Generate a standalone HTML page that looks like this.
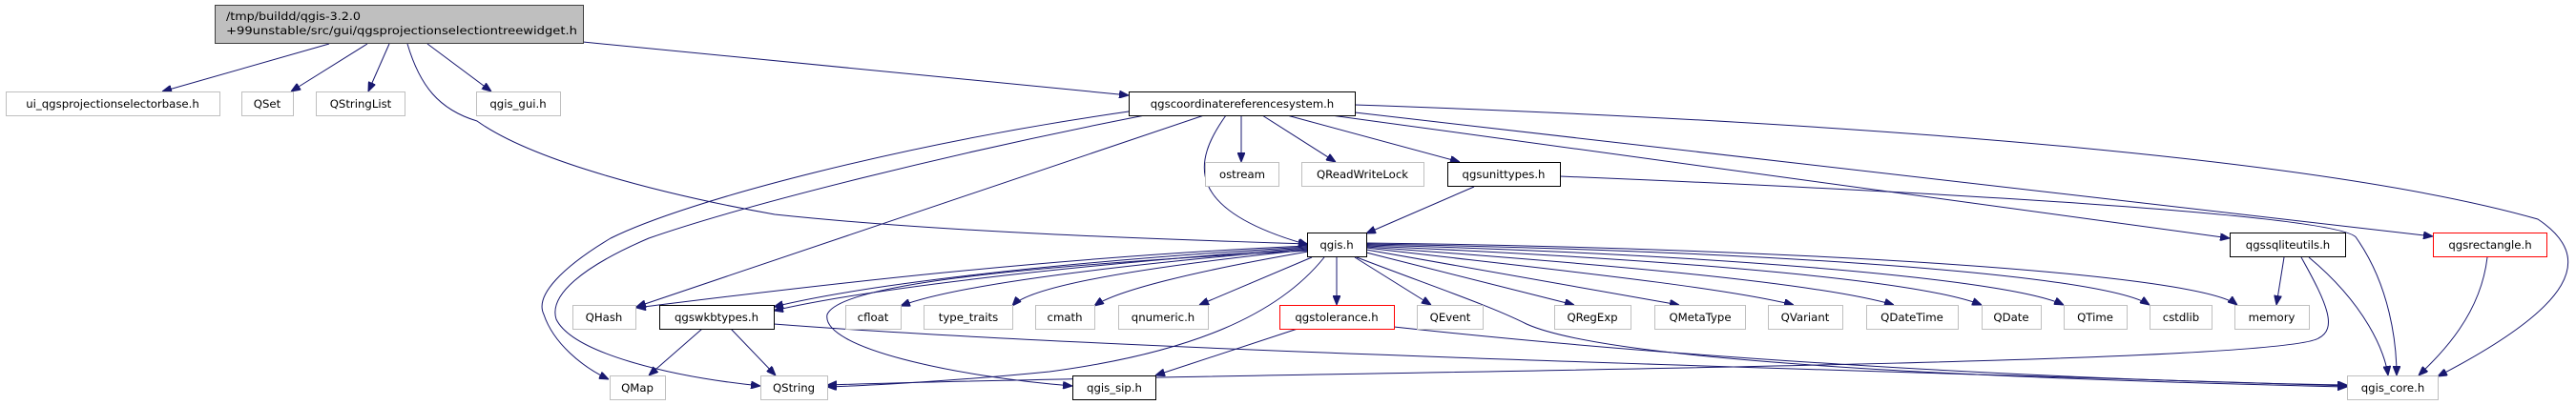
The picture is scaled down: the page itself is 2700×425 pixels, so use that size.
<!DOCTYPE html>
<html><head><meta charset="utf-8"><style>
html,body{margin:0;padding:0;background:#fff;}
svg{display:block;}
text{font-family:"DejaVu Sans","Liberation Sans",sans-serif;font-size:11.7px;fill:#000;}
</style></head><body>
<svg width="2700" height="425" viewBox="0 0 2700 425" xmlns="http://www.w3.org/2000/svg">
<defs>
<marker id="a" markerWidth="10" markerHeight="8" refX="10" refY="4" orient="auto" markerUnits="userSpaceOnUse">
<path d="M0,0 L10,4 L0,8 Z" fill="#191970" stroke="#191970"/>
</marker>
</defs>
<g fill="none" stroke="#191970" stroke-width="1" marker-end="url(#a)">
<path d="M345,46 L170,96"/>
<path d="M385,46 L305,96"/>
<path d="M408,46 L386,96"/>
<path d="M448,46 L515,96"/>
<path d="M611,44 L1183,100"/>
<path d="M427,46 C440,90 460,115 500,127 C560,170 700,205 812,225 C1000,245 1250,252 1371,256"/>
<path d="M1301,121 L1301,170"/>
<path d="M1323,121 L1400,170"/>
<path d="M1349,121 L1530,170"/>
<path d="M1285,121 C1250,170 1240,220 1371,257"/>
<path d="M1262,121 L667,322"/>
<path d="M1190,116 C950,150 720,210 640,250 C590,280 560,310 570,330 C580,360 610,385 638,398"/>
<path d="M1200,121 C1000,160 780,215 680,250 C610,280 575,310 583,335 C600,370 700,395 797,405"/>
<path d="M1395,121 L2337,250"/>
<path d="M1420,118 L2550,248"/>
<path d="M1420,110 C2000,130 2450,170 2660,230 C2720,270 2700,320 2555,395"/>
<path d="M1545,196 L1432,245"/>
<path d="M1635,185 C2000,200 2460,225 2470,250 C2505,300 2512,360 2512,394"/>
<path d="M1371,258 C1100,270 850,300 667,323"/>
<path d="M1371,259 C1100,275 900,300 811,322"/>
<path d="M1371,260 C1100,280 900,305 811,326"/>
<path d="M1371,261 C1150,280 1000,300 944,321"/>
<path d="M1371,262 C1200,280 1080,300 1061,321"/>
<path d="M1371,264 C1250,285 1170,305 1147,321"/>
<path d="M1375,270 L1257,320"/>
<path d="M1401,270 L1401,320"/>
<path d="M1420,270 L1500,320"/>
<path d="M1432,265 L1650,320"/>
<path d="M1432,262 L1760,320"/>
<path d="M1432,260 C1600,280 1800,300 1880,320"/>
<path d="M1432,259 C1650,275 1900,295 1985,320"/>
<path d="M1432,258 C1700,270 2000,290 2077,320"/>
<path d="M1432,257 C1750,265 2100,290 2163,320"/>
<path d="M1432,256 C1800,262 2200,285 2253,320"/>
<path d="M1432,255 C1850,260 2300,285 2345,320"/>
<path d="M1371,263 C1050,280 880,300 867,330 C860,365 1000,395 1124,405"/>
<path d="M1388,270 C1340,330 1250,370 1100,390 C1000,400 900,405 867,406"/>
<path d="M1422,270 C1500,300 1560,320 1600,340 C1700,385 2200,400 2460,406"/>
<path d="M736,345 L680,394"/>
<path d="M766,345 L813,394"/>
<path d="M811,340 C1200,370 2000,390 2460,405"/>
<path d="M1360,345 L1211,394"/>
<path d="M1461,343 C1800,380 2200,400 2460,404"/>
<path d="M2394,270 L2386,320"/>
<path d="M2412,270 C2440,320 2450,345 2430,355 C2380,385 1300,390 867,404"/>
<path d="M2420,270 C2480,320 2500,370 2503,394"/>
<path d="M2607,270 C2600,330 2560,370 2535,394"/>
</g>
<g stroke-width="1">
<rect x="225.5" y="5.5" width="386" height="40" fill="#bfbfbf" stroke="#404040"/>
<rect x="6.5" y="96.5" width="224" height="25" fill="#fff" stroke="#bfbfbf"/>
<rect x="253.5" y="96.5" width="54" height="25" fill="#fff" stroke="#bfbfbf"/>
<rect x="331.5" y="96.5" width="93" height="25" fill="#fff" stroke="#bfbfbf"/>
<rect x="499.5" y="96.5" width="88" height="25" fill="#fff" stroke="#bfbfbf"/>
<rect x="1183.5" y="96.5" width="237" height="25" fill="#fff" stroke="#000"/>
<rect x="1263.5" y="170.5" width="77" height="25" fill="#fff" stroke="#bfbfbf"/>
<rect x="1364.5" y="170.5" width="128" height="25" fill="#fff" stroke="#bfbfbf"/>
<rect x="1517.5" y="170.5" width="118" height="25" fill="#fff" stroke="#000"/>
<rect x="1370.5" y="244.5" width="62" height="25" fill="#fff" stroke="#000"/>
<rect x="2337.5" y="244.5" width="121" height="25" fill="#fff" stroke="#000"/>
<rect x="2550.5" y="244.5" width="119" height="25" fill="#fff" stroke="#ff0000"/>
<rect x="600.5" y="320.5" width="66" height="25" fill="#fff" stroke="#bfbfbf"/>
<rect x="691.5" y="320.5" width="120" height="25" fill="#fff" stroke="#000"/>
<rect x="886.5" y="320.5" width="58" height="25" fill="#fff" stroke="#bfbfbf"/>
<rect x="968.5" y="320.5" width="93" height="25" fill="#fff" stroke="#bfbfbf"/>
<rect x="1085.5" y="320.5" width="62" height="25" fill="#fff" stroke="#bfbfbf"/>
<rect x="1172.5" y="320.5" width="94" height="25" fill="#fff" stroke="#bfbfbf"/>
<rect x="1341.5" y="320.5" width="120" height="25" fill="#fff" stroke="#ff0000"/>
<rect x="1485.5" y="320.5" width="69" height="25" fill="#fff" stroke="#bfbfbf"/>
<rect x="1629.5" y="320.5" width="80" height="25" fill="#fff" stroke="#bfbfbf"/>
<rect x="1734.5" y="320.5" width="95" height="25" fill="#fff" stroke="#bfbfbf"/>
<rect x="1853.5" y="320.5" width="78" height="25" fill="#fff" stroke="#bfbfbf"/>
<rect x="1956.5" y="320.5" width="96" height="25" fill="#fff" stroke="#bfbfbf"/>
<rect x="2077.5" y="320.5" width="62" height="25" fill="#fff" stroke="#bfbfbf"/>
<rect x="2163.5" y="320.5" width="66" height="25" fill="#fff" stroke="#bfbfbf"/>
<rect x="2253.5" y="320.5" width="65" height="25" fill="#fff" stroke="#bfbfbf"/>
<rect x="2342.5" y="320.5" width="78" height="25" fill="#fff" stroke="#bfbfbf"/>
<rect x="639.5" y="394.5" width="58" height="25" fill="#fff" stroke="#bfbfbf"/>
<rect x="797.5" y="394.5" width="70" height="25" fill="#fff" stroke="#bfbfbf"/>
<rect x="1124.5" y="394.5" width="87" height="25" fill="#fff" stroke="#000"/>
<rect x="2460.5" y="394.5" width="95" height="25" fill="#fff" stroke="#bfbfbf"/>
</g>
<text x="237" y="21" textLength="141" lengthAdjust="spacingAndGlyphs">/tmp/buildd/qgis-3.2.0</text>
<text x="237" y="36" textLength="368" lengthAdjust="spacingAndGlyphs">+99unstable/src/gui/qgsprojectionselectiontreewidget.h</text>
<g text-anchor="middle">
<text x="118" y="113">ui_qgsprojectionselectorbase.h</text>
<text x="280" y="113">QSet</text>
<text x="378" y="113">QStringList</text>
<text x="543" y="113">qgis_gui.h</text>
<text x="1302" y="113">qgscoordinatereferencesystem.h</text>
<text x="1302" y="187">ostream</text>
<text x="1428" y="187">QReadWriteLock</text>
<text x="1576" y="187">qgsunittypes.h</text>
<text x="1401" y="261">qgis.h</text>
<text x="2398" y="261">qgssqliteutils.h</text>
<text x="2610" y="261">qgsrectangle.h</text>
<text x="633" y="337">QHash</text>
<text x="751" y="337">qgswkbtypes.h</text>
<text x="915" y="337">cfloat</text>
<text x="1015" y="337">type_traits</text>
<text x="1116" y="337">cmath</text>
<text x="1219" y="337">qnumeric.h</text>
<text x="1401" y="337">qgstolerance.h</text>
<text x="1520" y="337">QEvent</text>
<text x="1669" y="337">QRegExp</text>
<text x="1782" y="337">QMetaType</text>
<text x="1892" y="337">QVariant</text>
<text x="2004" y="337">QDateTime</text>
<text x="2108" y="337">QDate</text>
<text x="2196" y="337">QTime</text>
<text x="2286" y="337">cstdlib</text>
<text x="2381" y="337">memory</text>
<text x="668" y="411">QMap</text>
<text x="832" y="411">QString</text>
<text x="1168" y="411">qgis_sip.h</text>
<text x="2508" y="411">qgis_core.h</text>
</g>
</svg>
</body></html>
